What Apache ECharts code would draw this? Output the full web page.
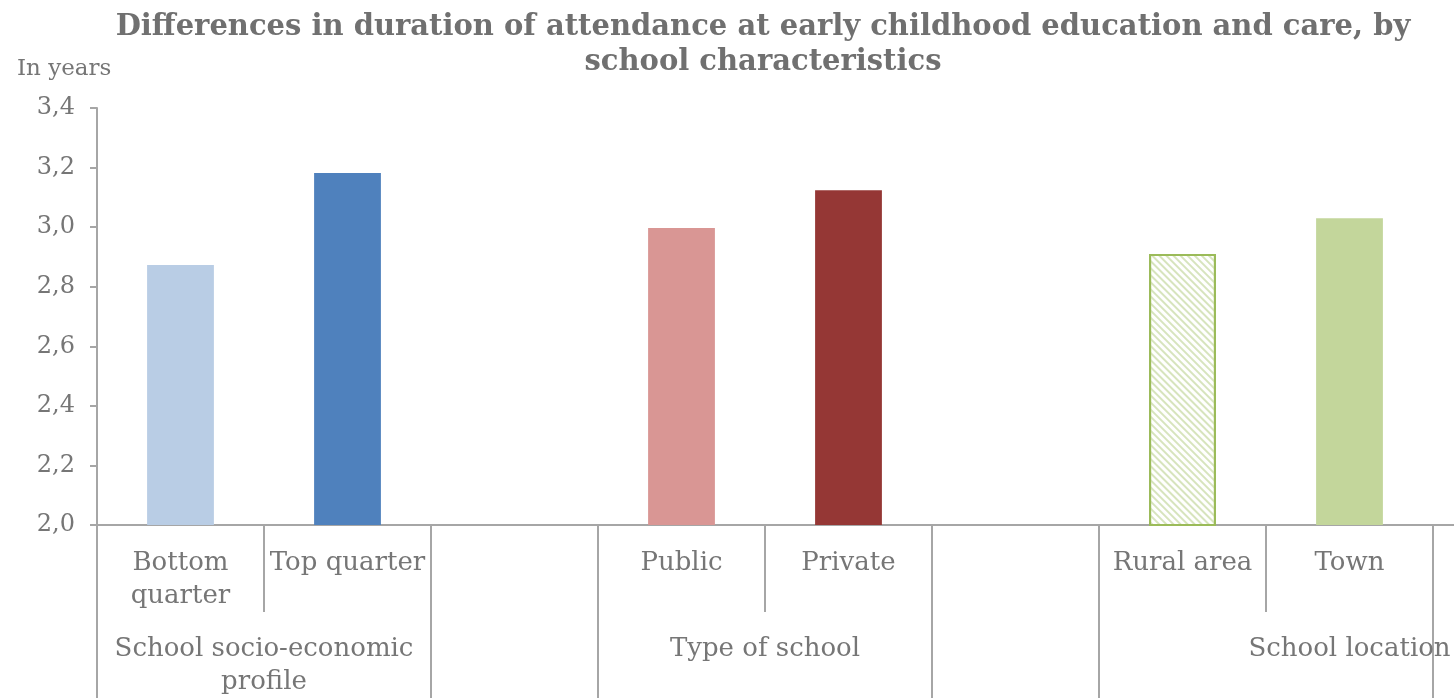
<!DOCTYPE html>
<html>
<head>
<meta charset="utf-8">
<script src="https://cdn.jsdelivr.net/npm/echarts@6/dist/echarts.min.js"></script>
<style>
  html, body { margin: 0; padding: 0; background: #fff; }
  #chart { width: 1454px; height: 698px; }
</style>
</head>
<body>
<div id="chart"></div>
<script>
// Chart data
const titleText = 'Differences in duration of attendance at early childhood education and care, by\nschool characteristics';
const unitText = 'In years';
const categories = ['Bottom\nquarter', 'Top quarter', '', 'Public', 'Private', '', 'Rural area', 'Town', ''];
const values = [2.873, 3.182, null, 2.997, 3.124, null, 2.91, 3.03, null];
const barColors = ['#b9cde5', '#4f81bd', null, '#d99694', '#953735', null, 'hatch', '#c3d69b', null];
const groupNames = ['School socio-economic\nprofile', 'Type of school', 'School location'];
const yTicks = [2.0, 2.2, 2.4, 2.6, 2.8, 3.0, 3.2, 3.4];

// Half-slot positions along the category axis (boundaryGap: false axes).
const halfSteps = categories.length * 2 + 1;
const halfSlots = Array.from({ length: halfSteps }, (_, k) => 'p' + k);
// Group label anchors and separators expressed in half-slot steps.
const groupLabelAt = { 2: groupNames[0], 8: groupNames[1], 15: groupNames[2] };
const groupSeparators = [0, 4, 6, 10, 12, 16];
const categorySeparators = [2, 8, 14];

const textColor = '#767676';
const lineColor = '#a6a6a6';
const fontFamily = "Georgia, 'DejaVu Serif', serif";

const seriesData = values.map((v, i) => {
  const c = barColors[i];
  if (v === null) return { value: null };
  if (c === 'hatch') {
    return {
      value: v,
      itemStyle: {
        color: '#ffffff',
        borderColor: '#9bbb59',
        borderWidth: 2,
        decal: {
          symbol: 'rect',
          color: '#d7e4bd',
          dashArrayX: [1, 0],
          dashArrayY: [2, 3],
          rotation: Math.PI / 4
        }
      }
    };
  }
  return { value: v, itemStyle: { color: c } };
});

const chart = echarts.init(document.getElementById('chart'), null, { renderer: 'canvas' });

const baseCat = {
  type: 'category',
  gridIndex: 0,
  position: 'bottom',
  boundaryGap: false,
  data: halfSlots,
  axisLine: { show: false },
  splitLine: { show: false }
};

chart.setOption({
  animation: false,
  backgroundColor: '#ffffff',
  title: [
    {
      text: titleText,
      left: 758,
      top: 5,
      textAlign: 'center',
      textStyle: {
        fontFamily: fontFamily,
        fontWeight: 'bold',
        fontSize: 29,
        lineHeight: 35,
        color: '#707070'
      }
    },
    {
      text: unitText,
      left: 12,
      top: 53,
      textStyle: {
        fontFamily: fontFamily,
        fontWeight: 'normal',
        fontSize: 23,
        color: textColor
      }
    }
  ],
  grid: {
    left: 97, top: 108, width: 1503, height: 417,
    containLabel: false,
    outerBoundsMode: 'none'
  },
  xAxis: [
    {
      type: 'category',
      gridIndex: 0,
      position: 'bottom',
      data: categories,
      axisLine: { show: true, lineStyle: { color: lineColor, width: 2 } },
      axisTick: { show: false },
      axisLabel: {
        interval: 0,
        margin: 22,
        color: textColor,
        fontFamily: fontFamily,
        fontSize: 26,
        lineHeight: 33,
        verticalAlign: 'top'
      },
      splitLine: { show: false }
    },
    Object.assign({}, baseCat, {
      axisTick: {
        show: true,
        length: 87,
        interval: (k) => categorySeparators.includes(k),
        lineStyle: { color: lineColor, width: 2 }
      },
      axisLabel: { show: false }
    }),
    Object.assign({}, baseCat, {
      axisTick: {
        show: true,
        length: 173,
        interval: (k) => groupSeparators.includes(k),
        lineStyle: { color: lineColor, width: 2 }
      },
      axisLabel: {
        show: true,
        interval: 0,
        margin: 108,
        color: textColor,
        fontFamily: fontFamily,
        fontSize: 26,
        lineHeight: 33,
        verticalAlign: 'top',
        formatter: (v, k) => groupLabelAt[k] || ''
      }
    })
  ],
  yAxis: {
    type: 'value',
    min: 2.0,
    max: 3.4,
    interval: 0.2,
    axisLine: { show: true, lineStyle: { color: lineColor, width: 2 } },
    axisTick: { show: true, length: 7, lineStyle: { color: lineColor, width: 2 } },
    splitLine: { show: false },
    axisLabel: {
      margin: 22,
      color: textColor,
      fontFamily: fontFamily,
      fontSize: 24,
      formatter: (v) => v.toFixed(1).replace('.', ',')
    }
  },
  series: [
    {
      type: 'bar',
      xAxisIndex: 0,
      yAxisIndex: 0,
      barWidth: '40%',
      data: seriesData
    }
  ]
});
</script>
</body>
</html>
